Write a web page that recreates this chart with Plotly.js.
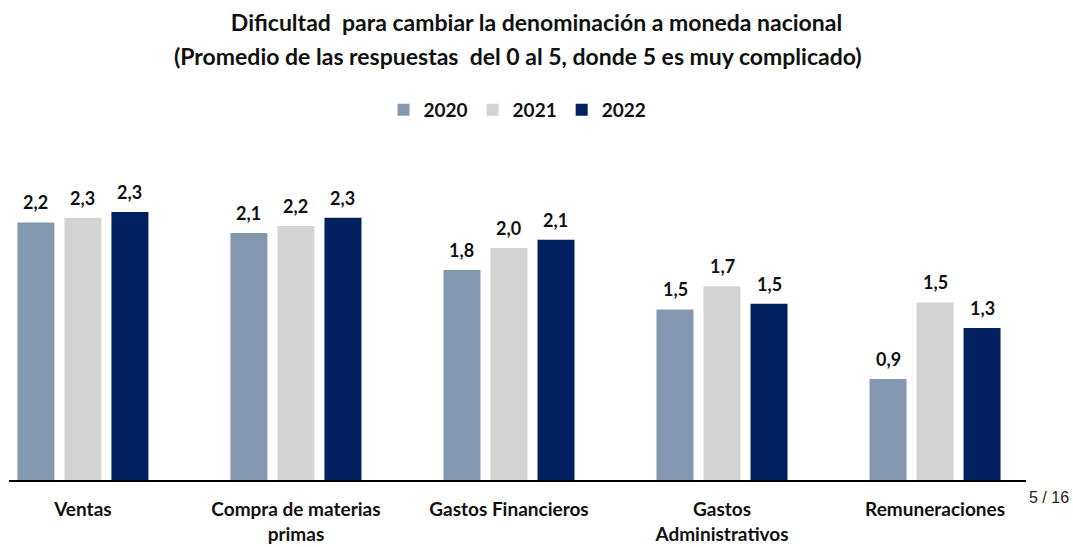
<!DOCTYPE html>
<html>
<head>
<meta charset="utf-8">
<script src="https://cdn.plot.ly/plotly-3.0.1.min.js"></script>
<style>html,body{margin:0;padding:0;background:#fff;}#chart{width:1073px;height:547px;}</style>
</head>
<body>
<div id="chart"></div>
<script>
const categories = ["Ventas", "Compra de materias<br>primas", "Gastos Financieros", "Gastos<br>Administrativos", "Remuneraciones"];
const years = ["2020", "2021", "2022"];
const values2020 = [2.22, 2.13, 1.81, 1.47, 0.87];
const values2021 = [2.26, 2.19, 2.00, 1.67, 1.53];
const values2022 = [2.31, 2.26, 2.07, 1.52, 1.31];
const colors = ["#8497B0", "#D3D3D3", "#002060"];

const FONT = "Lato, 'Open Sans', sans-serif";
const BARGAP = 0.338;
const series = [values2020, values2021, values2022];
const traces = series.map((vals, i) => ({
  type: "bar",
  name: "<b>" + years[i] + "</b>",
  x: categories,
  y: vals,
  marker: {color: colors[i]},
  textposition: "none",
  hoverinfo: "skip"
}));

// value labels, placed through the axes from the data arrays
const pitch = (1 - BARGAP) / series.length;
const labelAnns = [];
series.forEach((vals, k) => {
  vals.forEach((v, i) => {
    labelAnns.push({
      x: i + (k - (series.length - 1) / 2) * pitch, y: v, xref: "x", yref: "y",
      text: "<b>" + v.toFixed(1).replace(".", ",") + "</b>",
      showarrow: false, xanchor: "center", yanchor: "bottom", yshift: 7,
      font: {family: FONT, size: 18, color: "#111"}
    });
  });
});

const layout = {
  width: 1073, height: 547,
  separators: ",.",
  paper_bgcolor: "#fff", plot_bgcolor: "#fff",
  margin: {l: 9, r: 47, t: 178, b: 67},
  font: {family: FONT, color: "#111"},
  title: {text: "<b>Dificultad  para cambiar la denominación a moneda nacional</b>",
          font: {family: FONT, size: 23, color: "#111"},
          x: 0.5, xanchor: "center", y: 1 - 23/547, yanchor: "middle", yref: "container"},
  barmode: "group",
  bargap: BARGAP,
  bargroupgap: 0.213,
  showlegend: true,
  legend: {orientation: "h", x: 0.5, xanchor: "center", xref: "paper",
           y: 1 - 110/547, yanchor: "middle", yref: "container",
           font: {family: FONT, size: 19, color: "#111"},
           itemwidth: 30, traceorder: "normal"},
  xaxis: {
    type: "category",
    range: [-0.347, 4.427],
    showline: true, linecolor: "#000", linewidth: 2,
    ticks: "", showgrid: false, zeroline: false,
    tickfont: {family: FONT, size: 19, color: "#111"},
    ticklabelstandoff: 11,
    tickvals: categories,
    ticktext: categories.map(c => "<b>" + c + "</b>")
  },
  yaxis: {
    range: [0, 2.603],
    visible: false, showgrid: false, zeroline: false
  },
  annotations: [
    {text: "<b>(Promedio de las respuestas  del 0 al 5, donde 5 es muy complicado)</b>",
     xref: "paper", yref: "paper", x: 0.5, xanchor: "center",
     y: (480 - 56) / (480 - 178), yanchor: "middle",
     showarrow: false, font: {family: FONT, size: 23, color: "#111"}},
    {text: "5 / 16", xref: "paper", yref: "paper",
     x: (1071 - 9) / (1073 - 9 - 47), xanchor: "right",
     y: -(497 - 480) / (480 - 178), yanchor: "middle",
     showarrow: false, font: {family: "'Liberation Sans', sans-serif", size: 16, color: "#222"}}
  ].concat(labelAnns)
};

Plotly.newPlot("chart", traces, layout, {displayModeBar: false, staticPlot: true});
</script>
</body>
</html>
